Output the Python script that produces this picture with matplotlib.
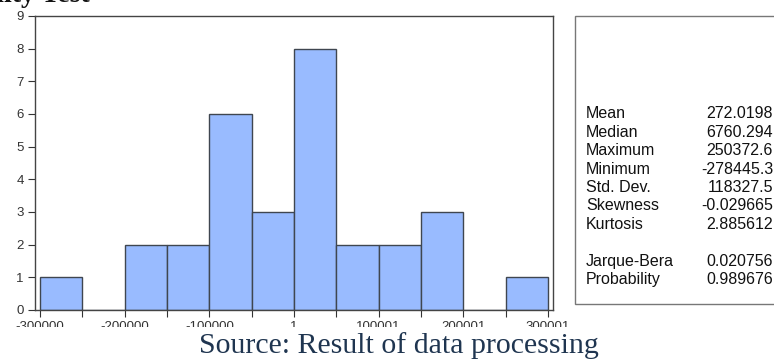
import matplotlib
matplotlib.use("Agg")
import matplotlib.pyplot as plt
from matplotlib.patches import Rectangle
import numpy as np

W, H = 774, 359

# Histogram of residuals: bin edges and counts per bin
bin_edges = [-300000, -250000, -200000, -150000, -100000, -50000, 1,
             50001, 100001, 150001, 200001, 250001, 300001]
counts = [1, 0, 2, 2, 6, 3, 8, 2, 2, 3, 0, 1]

x_ticks = [-300000, -200000, -100000, 1, 100001, 200001, 300001]
x_tick_labels = ["-300000", "-200000", "-100000", "1", "100001", "200001", "300001"]
y_ticks = list(range(0, 10))

stat_names = ["Mean", "Median", "Maximum", "Minimum", "Std. Dev.",
              "Skewness", "Kurtosis", "", "Jarque-Bera", "Probability"]
stat_values = ["272.0198", "6760.294", "250372.6", "-278445.3", "118327.5",
               "-0.029665", "2.885612", "", "0.020756", "0.989676"]

plt.rcParams["font.family"] = ["Liberation Sans", "DejaVu Sans"]

fig = plt.figure(figsize=(W / 100, H / 100), dpi=100)
fig.patch.set_facecolor("white")

def px(x, y):
    """pixel (from top-left) -> figure fraction"""
    return x / W, 1 - y / H

ax_l, ax_r, ax_t, ax_b = 35, 553, 16, 310
ax = fig.add_axes([ax_l / W, 1 - ax_b / H, (ax_r - ax_l) / W, (ax_b - ax_t) / H])

lefts = np.array(bin_edges[:-1])
widths = np.diff(bin_edges)
ax.bar(lefts, counts, width=widths, align="edge", color="#99bbff",
       edgecolor="#3f4650", linewidth=1.0, zorder=2)

ax.set_xlim(-306000, 306000)
ax.set_ylim(0, 9)
ax.set_xticks(x_ticks)
ax.set_xticklabels(x_tick_labels)
ax.set_xticks(bin_edges[1::2], minor=True)
ax.set_yticks(y_ticks)
ax.tick_params(axis="both", which="both", direction="out", length=5, width=0.8,
               colors="#333333", labelsize=9.5, pad=3)
for s in ax.spines.values():
    s.set_color("#444444")
    s.set_linewidth(1.0)

# Descriptive statistics panel
x0, y0 = px(575, 304)
x1, y1 = px(790, 16)
fig.add_artist(Rectangle((x0, y0), x1 - x0, y1 - y0, transform=fig.transFigure,
                         facecolor="white", edgecolor="#777777", linewidth=1.0))
row_y0, row_dy = 114, 18.4
for i, (name, val) in enumerate(zip(stat_names, stat_values)):
    if not name:
        continue
    yy = 1 - (row_y0 + i * row_dy) / H
    fig.text(586 / W, yy, name, fontsize=11.5, color="#111111", va="center", ha="left")
    fig.text(773 / W, yy, val, fontsize=11.5, color="#111111", va="center", ha="right")

# Lower part of the tick labels is covered by the caption band
fig.add_artist(Rectangle((0, 0), 1, 1 - 327 / H, transform=fig.transFigure,
                         facecolor="white", edgecolor="none", zorder=5))

fig.text(90 / W, 1 - 2.5 / H, "Normality Test", fontsize=20, ha="right",
         va="baseline", family=["Liberation Serif"], weight="bold",
         color="#111111", zorder=6)

fig.text(199 / W, 1 - 353 / H, "Source: Result of data processing", fontsize=21.5,
         ha="left", va="baseline", family=["Liberation Serif"],
         color="#1f3550", zorder=6)

fig.savefig("out.png", dpi=100, facecolor="white")
